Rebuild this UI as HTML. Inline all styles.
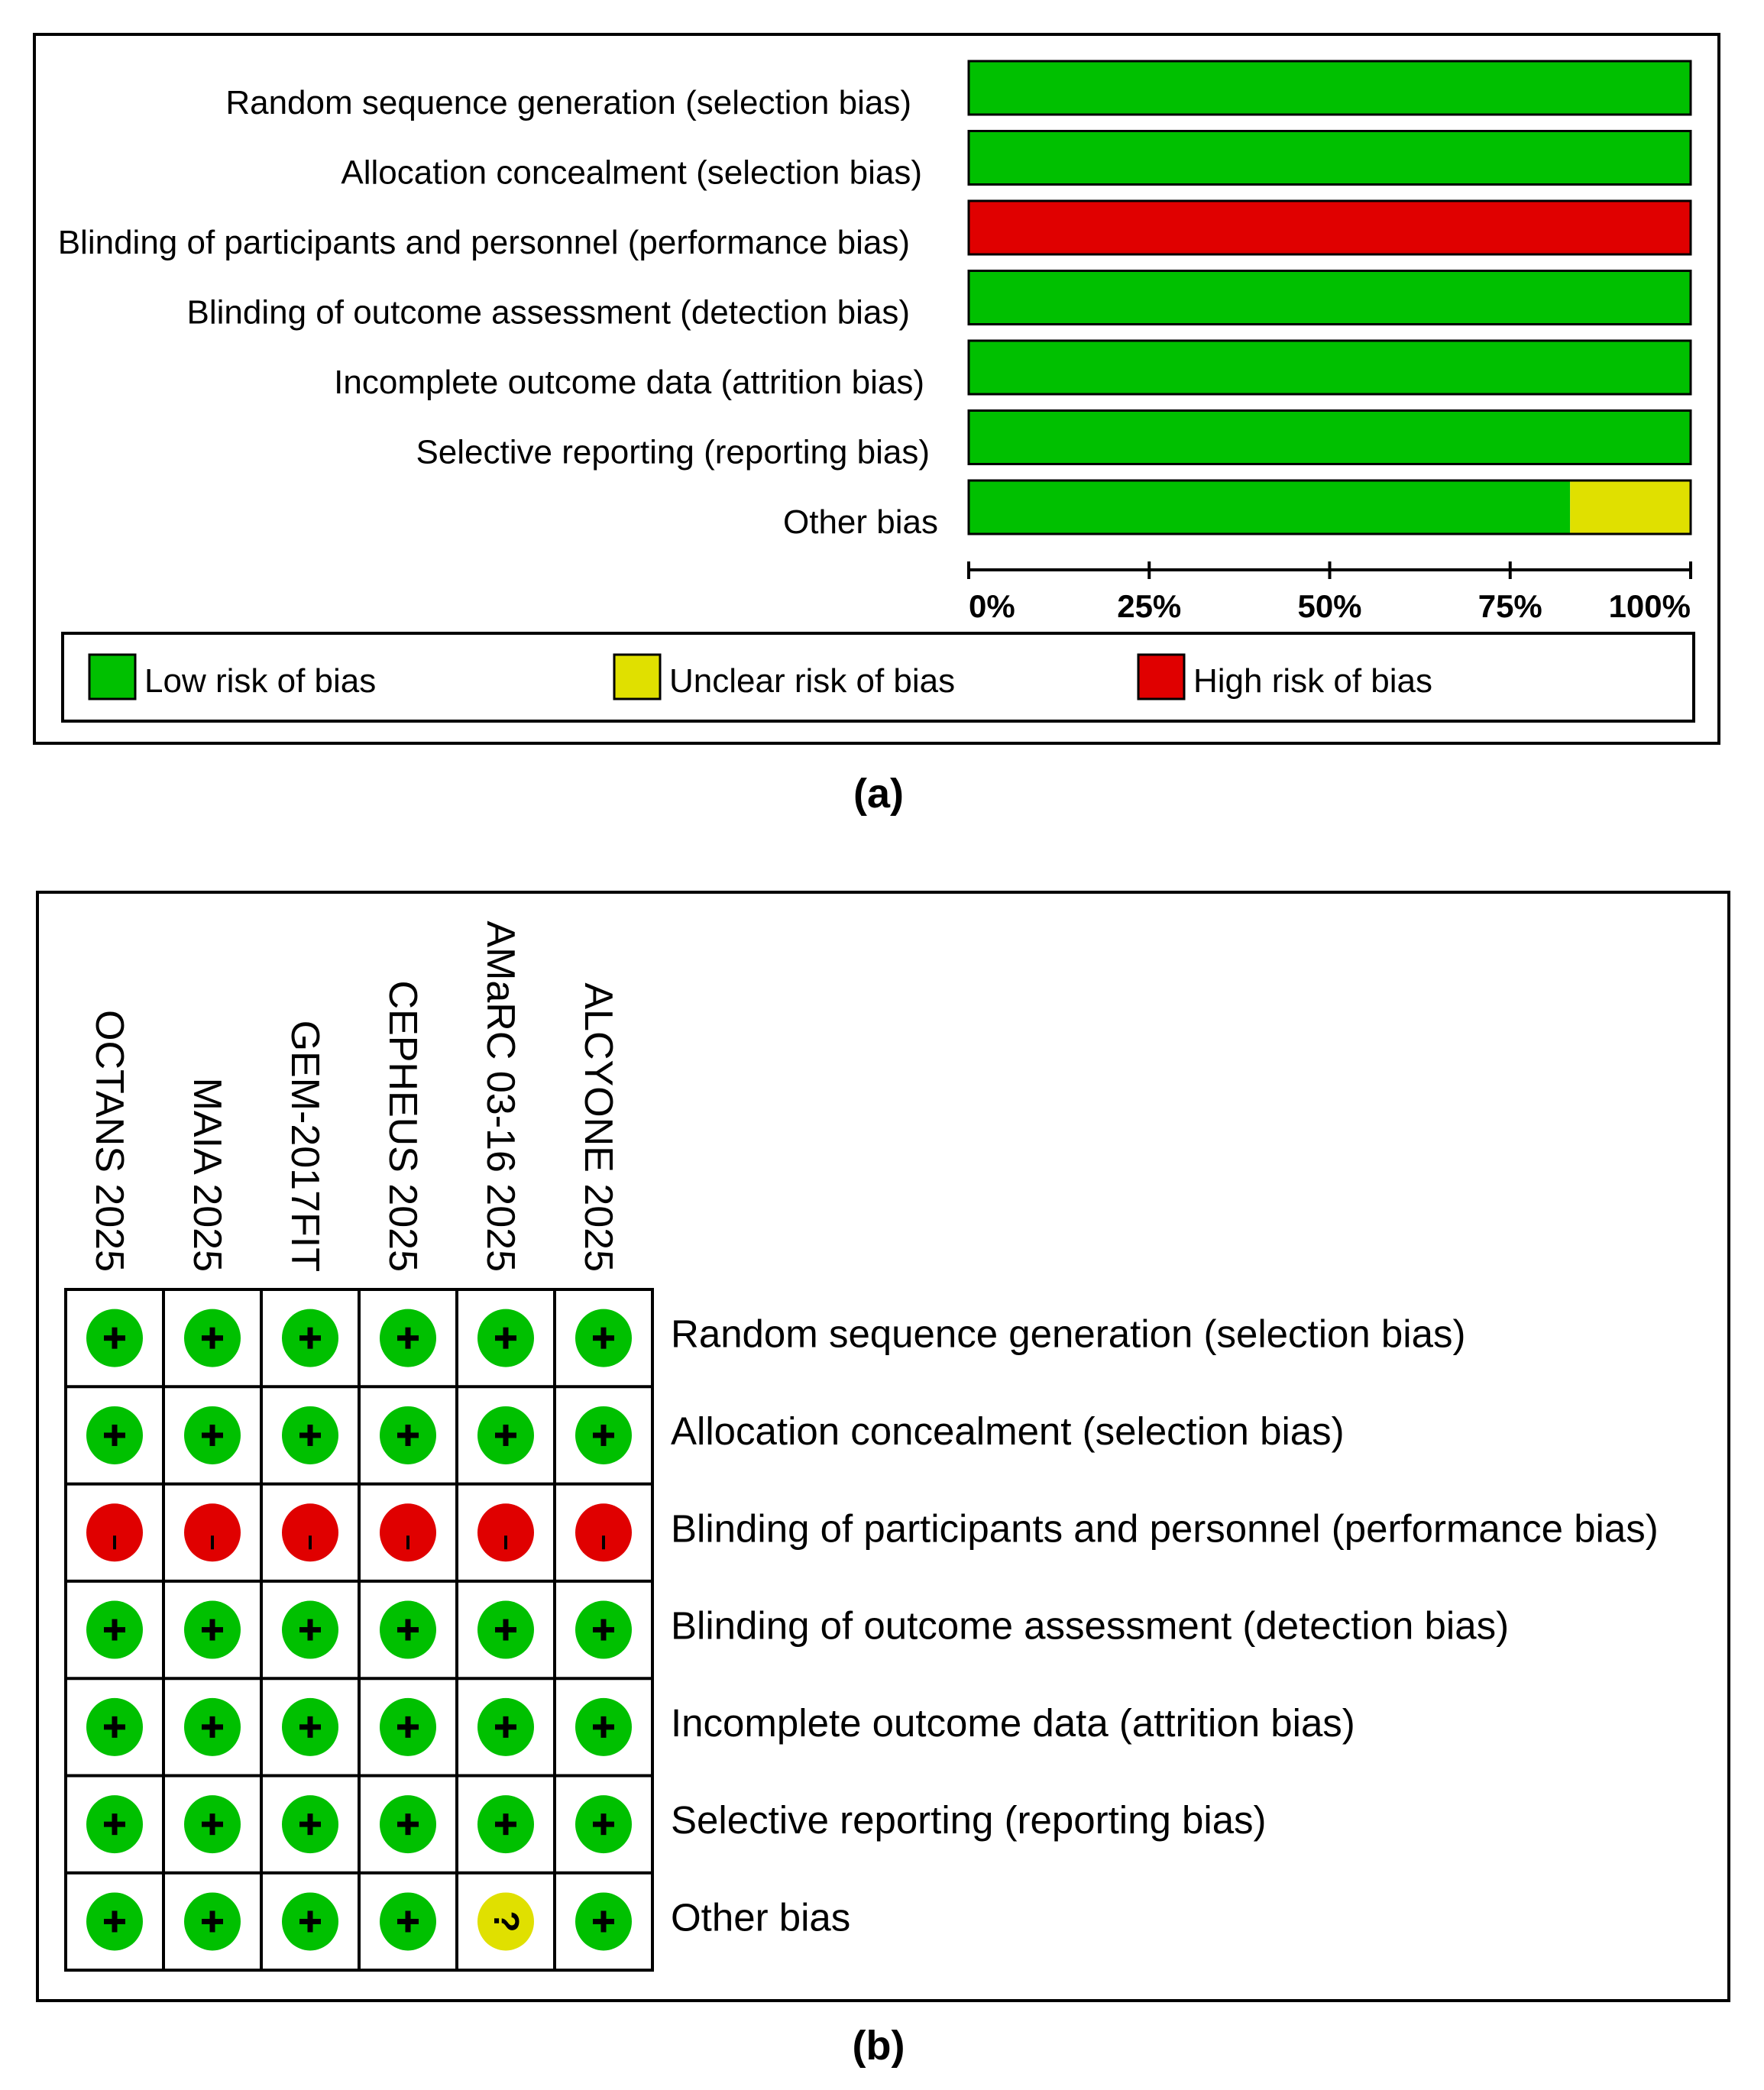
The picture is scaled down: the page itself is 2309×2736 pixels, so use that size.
<!DOCTYPE html>
<html><head><meta charset="utf-8"><style>
html,body{margin:0;padding:0;background:#fff;}
svg{display:block;font-family:"Liberation Sans",Arial,sans-serif;}
</style></head><body>
<svg id="fig" width="2309" height="2736" viewBox="0 0 2309 2736" xmlns="http://www.w3.org/2000/svg">
<rect x="0" y="0" width="2309" height="2736" fill="#fff"/>
<rect x="45" y="45" width="2205" height="928" fill="none" stroke="#000" stroke-width="4"/>
<g id="pa"></g>
<g>
<rect x="82" y="829" width="2135" height="115" fill="none" stroke="#000" stroke-width="4"/>
<rect x="117" y="857" width="60" height="58" fill="#00c000" stroke="#000" stroke-width="3"/>
<text x="189" y="906" font-size="44">Low risk of bias</text>
<rect x="804" y="857" width="60" height="58" fill="#e0e000" stroke="#000" stroke-width="3"/>
<text x="876" y="906" font-size="44">Unclear risk of bias</text>
<rect x="1490" y="857" width="60" height="58" fill="#e00000" stroke="#000" stroke-width="3"/>
<text x="1562" y="906" font-size="44">High risk of bias</text>
</g>
<text x="1150" y="1057" font-size="54" font-weight="bold" text-anchor="middle">(a)</text>
<rect x="49" y="1168" width="2214" height="1451" fill="none" stroke="#000" stroke-width="4"/>
<g id="pb"></g>
<text x="1150" y="2696" font-size="54" font-weight="bold" text-anchor="middle">(b)</text>
</svg>
<script>
const domains = ["Random sequence generation (selection bias)","Allocation concealment (selection bias)","Blinding of participants and personnel (performance bias)","Blinding of outcome assessment (detection bias)","Incomplete outcome data (attrition bias)","Selective reporting (reporting bias)","Other bias"];
const lowPct = [100,100,0,100,100,100,83.3];
const unclearPct = [0,0,0,0,0,0,16.7];
const highPct = [0,0,100,0,0,0,0];
const tickValues = [0,25,50,75,100];
const tickLabels = ["0%","25%","50%","75%","100%"];
const studies = ["OCTANS 2025","MAIA 2025","GEM-2017FIT","CEPHEUS 2025","AMaRC 03-16 2025","ALCYONE 2025"];
const judgments = [
 ["+","+","+","+","+","+"],
 ["+","+","+","+","+","+"],
 ["-","-","-","-","-","-"],
 ["+","+","+","+","+","+"],
 ["+","+","+","+","+","+"],
 ["+","+","+","+","+","+"],
 ["+","+","+","+","?","+"]
];
const NS="http://www.w3.org/2000/svg";
function mk(tag, attrs, parent){const e=document.createElementNS(NS,tag);for(const k in attrs)e.setAttribute(k,attrs[k]);parent.appendChild(e);return e;}
const colors={low:"#00c000",unclear:"#e0e000",high:"#e00000"};
// Panel A
const pa=document.getElementById('pa');
const x0=1268,x1=2213;
const xs=v=>x0+(x1-x0)*v/100;
const rowTop=i=>80+i*91.5;
const barH=70;
const labelRight=[1193,1207,1191,1191,1210,1217,1228];
domains.forEach((d,i)=>{
  const y=rowTop(i);
  let acc=0;
  [["low",lowPct[i]],["unclear",unclearPct[i]],["high",highPct[i]]].forEach(([k,v])=>{
    if(v<=0)return;
    const r=mk('rect',{x:xs(acc),y:y,width:xs(acc+v)-xs(acc),height:barH,fill:colors[k]},pa);
    
    
    acc+=v;
  });
  const o=mk('rect',{x:x0,y:y,width:x1-x0,height:barH,fill:'none',stroke:'#000','stroke-width':3},pa);
  
  
  const t=mk('text',{x:labelRight[i],y:y+barH/2+34,'font-size':44,'text-anchor':'end'},pa);
  t.textContent=d;
  
  
});
const ax=mk('line',{x1:x0,y1:746,x2:x1,y2:746,stroke:'#000','stroke-width':4},pa);


tickValues.forEach((v,i)=>{
  const tk=mk('line',{x1:xs(v),y1:735,x2:xs(v),y2:758,stroke:'#000','stroke-width':4},pa);
  
  
  const anchor=i===0?'start':(i===tickValues.length-1?'end':'middle');
  const t=mk('text',{x:xs(v),y:808,'font-size':42,'font-weight':'bold','text-anchor':anchor},pa);
  t.textContent=tickLabels[i];
  
  
});
// Panel B
const pb=document.getElementById('pb');
const gx=86,gy=1688,cw=128,ch=127.3;
const nC=studies.length,nR=domains.length;
studies.forEach((s,j)=>{
  const cx=gx+cw*(j+0.5)-6;
  const t=mk('text',{x:0,y:0,'font-size':52,'text-anchor':'end',transform:`translate(${cx-18},1665) rotate(90)`},pb);
  t.textContent=s;
  
  
});
domains.forEach((d,i)=>{
  const cy=gy+ch*(i+0.5);
  judgments[i].forEach((jv,j)=>{
    const cx=gx+cw*(j+0.5);
    const k=jv==='+'?'low':(jv==='?'?'unclear':'high');
    const c=mk('ellipse',{cx:cx,cy:cy,rx:37,ry:38,fill:colors[k]},pb);
    
    
    if(jv==='+'){
      mk('rect',{x:cx-14,y:cy-3.5,width:28,height:7,fill:'#000'},pb);
      mk('rect',{x:cx-3.5,y:cy-14,width:7,height:28,fill:'#000'},pb);
    }else if(jv==='-'){
      mk('rect',{x:cx-2,y:cy+4,width:4,height:18,fill:'#000'},pb);
    }else{
      const q=mk('text',{x:0,y:0,'font-size':46,'font-weight':'bold','text-anchor':'middle',transform:`translate(${cx-15},${cy}) rotate(90)`},pb);
      q.textContent='?';
    }
  });
  const t=mk('text',{x:878,y:cy+12,'font-size':51},pb);
  t.textContent=d;
  
  
});
for(let j=0;j<=nC;j++) mk('line',{x1:gx+cw*j,y1:gy,x2:gx+cw*j,y2:gy+ch*nR,stroke:'#000','stroke-width':4},pb);
for(let i=0;i<=nR;i++) mk('line',{x1:gx-2,y1:gy+ch*i,x2:gx+cw*nC+2,y2:gy+ch*i,stroke:'#000','stroke-width':4},pb);
</script>
</body></html>
